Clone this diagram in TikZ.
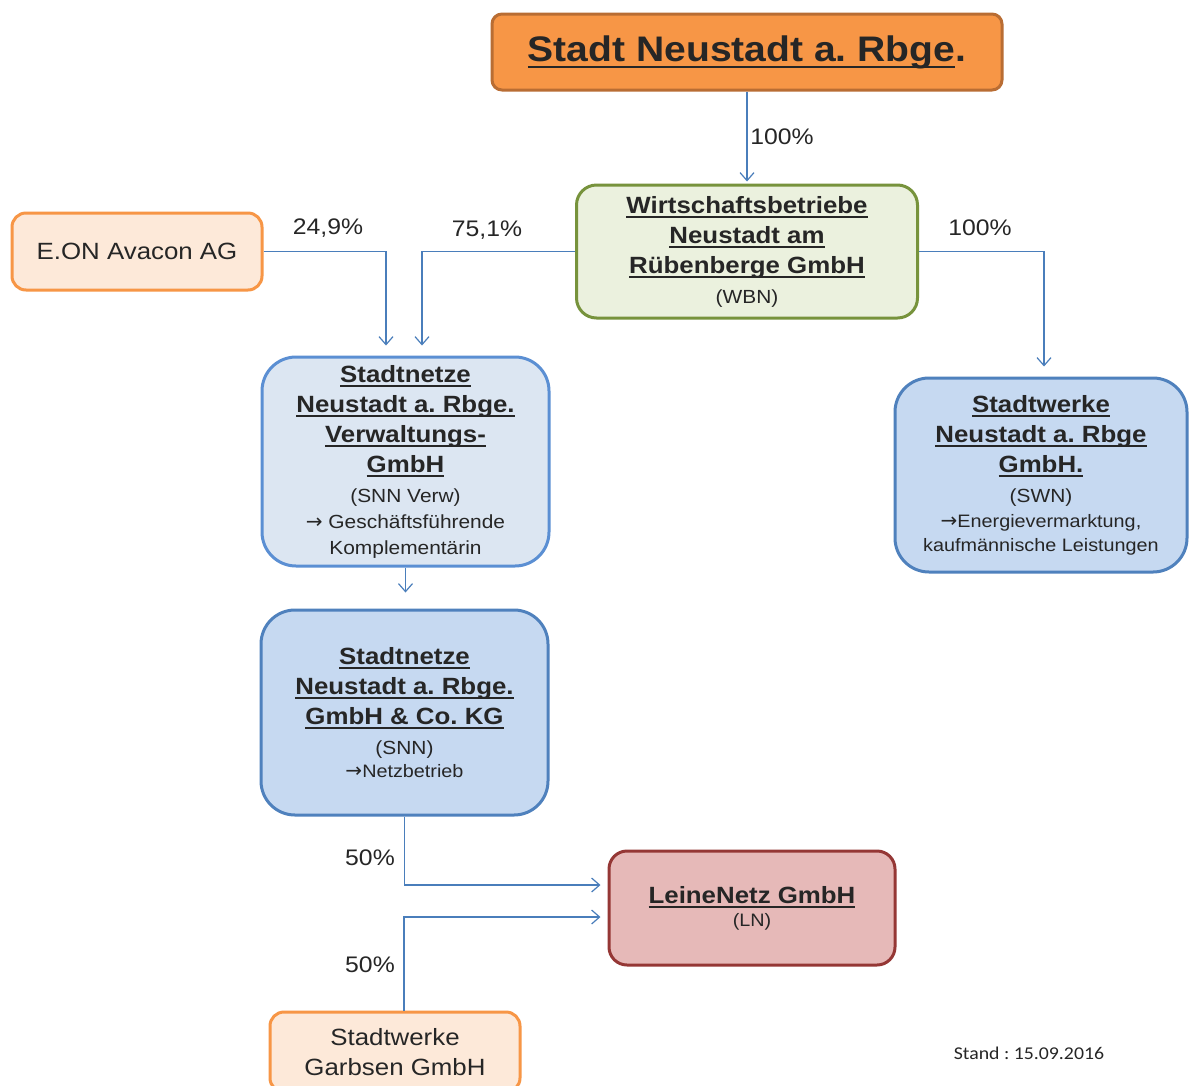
\documentclass[tikz,border=0pt]{standalone}
\usepackage{fontspec}
\setmainfont{Liberation Sans}[FakeStretch=1.1]
\newfontfamily\calib{Carlito}[FakeStretch=1.1]
\newfontfamily\arrf{DejaVu Sans}
\usetikzlibrary{arrows.meta,calc}
\frenchspacing
\definecolor{orfill}{HTML}{F79646}
\definecolor{orline}{HTML}{B96D33}
\definecolor{peach}{HTML}{FDE9D9}
\definecolor{orbord}{HTML}{F79646}
\definecolor{grfill}{HTML}{EBF1DE}
\definecolor{grline}{HTML}{77933C}
\definecolor{bllight}{HTML}{DCE6F2}
\definecolor{blfill}{HTML}{C6D9F1}
\definecolor{blline}{HTML}{4F81BD}
\definecolor{blline2}{HTML}{5B8FD3}
\definecolor{rdfill}{HTML}{E6B9B8}
\definecolor{rdline}{HTML}{953735}
\definecolor{conncol}{HTML}{4A7EBB}
\definecolor{txt}{HTML}{262626}
\newcommand\ulin[1]{\setbox0=\hbox{#1}\rlap{\rule[-0.2em]{\wd0}{0.075em}}\box0}
\newcommand\bigb{\fontsize{23.5}{30}\selectfont\bfseries}
\newcommand\smt{\fontsize{19}{20}\selectfont\mdseries}
\newcommand\smtt{\fontsize{18}{20}\selectfont\mdseries}
\newcommand\arw{{\arrf\fontsize{20}{20}\selectfont →}}
\tikzset{
  box/.style={draw, line width=3pt, align=center, inner sep=0pt, text=txt},
  conn/.style={draw=conncol, line width=1.2pt, -{Straight Barb[length=8pt,width=14pt,line width=1.2pt]}},
  pct/.style={font=\fontsize{22.5}{24}\selectfont, text=txt},
}
\begin{document}
\begin{tikzpicture}[x=1pt,y=-1pt]
\useasboundingbox[fill=white] (0,0) rectangle (1189,1085);
% boxes
\node[box, rounded corners=10pt, fill=orfill, draw=orline, minimum width=510pt, minimum height=76pt,
  font=\fontsize{35.5}{40}\selectfont\bfseries] (stadt) at (747,52) {\ulin{Stadt Neustadt a. Rbge}.};
\node[box, rounded corners=20pt, fill=grfill, draw=grline, minimum width=341pt, minimum height=133pt,
  font=\bigb] (wbn) at (747,251.5)
  {\ulin{Wirtschaftsbetriebe}\\\ulin{Neustadt am}\\\ulin{Rübenberge GmbH}\\{\smt (WBN)}};
\node[box, rounded corners=14pt, fill=peach, draw=orbord, minimum width=250pt, minimum height=77pt,
  font=\fontsize{23.5}{26}\selectfont] (eon) at (137,251.5) {E.ON Avacon AG};
\node[box, rounded corners=34pt, fill=bllight, draw=blline2, minimum width=287pt, minimum height=209pt,
  font=\bigb] (snnv) at (405.5,461.5)
  {\ulin{Stadtnetze}\\\ulin{Neustadt a. Rbge.}\\\ulin{Verwaltungs-}\\\ulin{GmbH}\\{\smt (SNN Verw)}\\[-4pt]{\smt\arw\ Geschäftsführende}\\[-4pt]{\smt Komplementärin}};
\node[box, rounded corners=34pt, fill=blfill, draw=blline, minimum width=292pt, minimum height=194pt,
  font=\bigb] (swn) at (1041,475)
  {\ulin{Stadtwerke}\\\ulin{Neustadt a. Rbge}\\\ulin{GmbH.}\\{\smt (SWN)}\\[-5pt]{\smtt\arw Energievermarktung,}\\[-6pt]{\smtt kaufmännische Leistungen}};
\node[box, rounded corners=34pt, fill=blfill, draw=blline, minimum width=287pt, minimum height=205pt,
  font=\bigb] (snn) at (404.5,712.5)
  {\ulin{Stadtnetze}\\\ulin{Neustadt a. Rbge.}\\\ulin{GmbH \& Co. KG}\\{\smt (SNN)}\\[-7pt]{\smtt\arw Netzbetrieb}};
\node[box, rounded corners=18pt, fill=rdfill, draw=rdline, minimum width=286pt, minimum height=114pt,
  font=\fontsize{23.5}{26}\selectfont\bfseries] (ln) at (752,908)
  {\ulin{LeineNetz GmbH}\\[-3pt]{\smtt (LN)}};
\node[box, rounded corners=14pt, fill=peach, draw=orbord, minimum width=250pt, minimum height=80pt,
  font=\fontsize{23.5}{30}\selectfont] (garb) at (395,1052) {Stadtwerke\\Garbsen GmbH};
% connectors
\draw[conn, shorten >=2pt] (stadt.south) -- (wbn.north);
\draw[conn, shorten >=10pt] (eon.east) -| ([xshift=-19.5pt]snnv.north);
\draw[conn, shorten >=10pt] (wbn.west) -| ([xshift=16.5pt]snnv.north);
\draw[conn, shorten >=10pt] (wbn.east) -| ([xshift=3pt]swn.north);
\draw[conn, shorten >=16pt] (snnv.south) -- (snnv.south |- snn.north);
\draw[conn, shorten >=7pt] (snn.south) |- ([yshift=23pt]ln.west);
\draw[conn, shorten >=7pt] ([xshift=9pt]garb.north) |- ([yshift=-9pt]ln.west);
% labels
\node[pct] (l1) at (782,137) {100\%};
\node[pct] (l2) at (328,228) {24,9\%};
\node[pct] (l3) at (487,230) {75,1\%};
\node[pct] (l4) at (980,228) {100\%};
\node[pct] (l5) at (370,858) {50\%};
\node[pct] (l6) at (370,965) {50\%};
\node[font=\calib\fontsize{18}{20}\selectfont, text=txt] (stand) at (1029,1053) {Stand : 15.09.2016};
\end{tikzpicture}
\end{document}
